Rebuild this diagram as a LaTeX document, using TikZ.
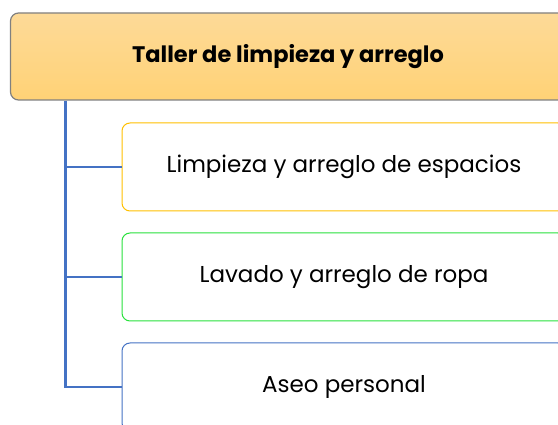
\documentclass[tikz,border=0pt]{standalone}
\usepackage{fontspec}
\setmainfont{Poppins}
\usetikzlibrary{calc}

\definecolor{boxgray}{RGB}{128,128,128}
\definecolor{toplight}{RGB}{253,218,152}
\definecolor{topdark}{RGB}{255,210,118}
\definecolor{lineblue}{RGB}{68,114,196}
\definecolor{boxyellow}{RGB}{255,192,0}
\definecolor{boxgreen}{RGB}{40,225,60}

\tikzset{
	topbox/.style={draw=boxgray, line width=1.2pt, rounded corners=8pt, top color=toplight, bottom color=topdark,
		minimum width=555pt, minimum height=87pt, font=\fontsize{22.5}{26}\selectfont\bfseries},
	itembox/.style={draw=#1, line width=1pt, fill=white, rounded corners=8pt,
		minimum width=444pt, minimum height=88pt, font=\fontsize{23}{27}\selectfont},
	link/.style={draw=lineblue, line width=2.6pt}
}

\begin{document}
\begin{tikzpicture}[x=1pt,y=-1pt]
\useasboundingbox (0,0) rectangle (558,425);
\clip (0,0) rectangle (558,425);

\node[topbox] (taller) at (288,56.5) {Taller de limpieza y arreglo};

\node[itembox=boxyellow] (limp) at (344,167) {Limpieza y arreglo de espacios};
\node[itembox=boxgreen] (lavado) at (344,277) {Lavado y arreglo de ropa};
\node[itembox=lineblue] (aseo) at (344,387) {Aseo personal};

\coordinate (trunk) at ([xshift=55.5pt]taller.south west);
\draw[link] (trunk) |- (aseo.west);
\draw[link] (trunk |- limp.west) -- (limp.west);
\draw[link] (trunk |- lavado.west) -- (lavado.west);
\end{tikzpicture}
\end{document}
